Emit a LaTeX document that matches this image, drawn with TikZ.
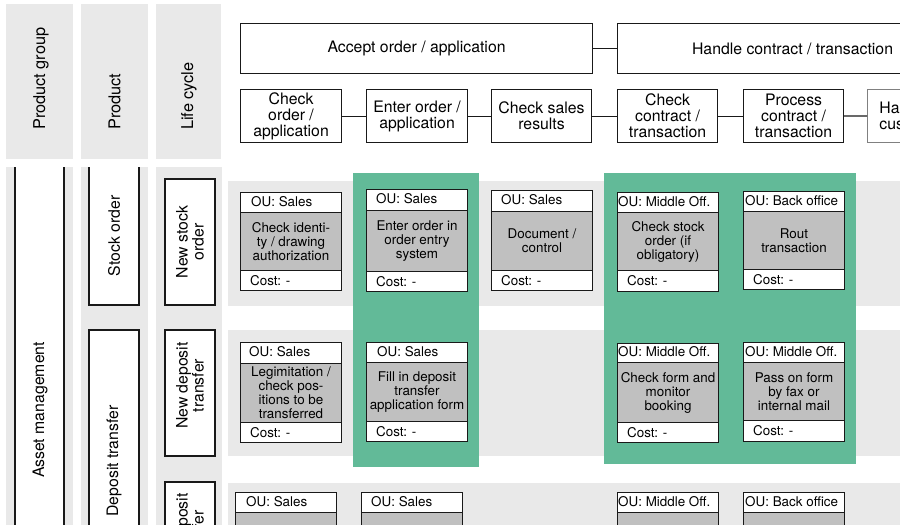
\documentclass[tikz,border=0pt]{standalone}
\usepackage{fontspec}
\setmainfont{TeX Gyre Heros}
\definecolor{bgg}{RGB}{233,233,233}
\definecolor{cardg}{RGB}{192,192,192}
\definecolor{grn}{RGB}{98,186,152}
\definecolor{ln}{RGB}{25,25,25}
\newcommand\ocard[9]{%
  \node[cpart, fill=white, minimum height={(#4-#3)*1pt}, anchor=north west] (#1h) at (#2,#3) {};
  \node[cpart, fill=cardg, minimum height={(#5-#4)*1pt}, anchor=north west] (#1b) at (#2,#4) {};
  \node[cpart, fill=white, minimum height={(#6-#5)*1pt}, anchor=north west] (#1f) at (#2,#5) {};
  \node[ctext, anchor=west] (#1ht) at ([xshift=#7pt,yshift=1pt]#1h.west) {#8};
  \node[ctext, align=center] (#1bt) at (#1b.center) {#9};
  \node[ctext, anchor=west] (#1ft) at ([xshift=10pt]#1f.west) {Cost: -};
}
\begin{document}
\begin{tikzpicture}[x=1pt,y=-1pt,
  bigfont/.style={font=\fontsize{15.8}{16}\selectfont},
  pbox/.style={draw=ln, line width=1.1pt, fill=white, inner sep=0pt, align=center, bigfont, anchor=north west},
  conn/.style={draw=ln, line width=1.1pt},
  lcbox/.style={draw=ln, line width=1.1pt, fill=white, inner sep=0pt, align=center, rotate=90, bigfont},
  vlabel/.style={rotate=90, bigfont, inner sep=0pt, align=center},
  hlabel/.style={rotate=90, font=\fontsize{16.3}{17}\selectfont, inner sep=0pt, anchor=west},
  cpart/.style={draw=ln, line width=1pt, minimum width=101pt, inner sep=0pt},
  ctext/.style={font=\fontsize{13.4}{14}\selectfont, inner sep=0pt}]
\useasboundingbox (0,0) rectangle (900,525);
\clip (0,0) rectangle (900,525);
\fill[white] (0,0) rectangle (900,525);

% header columns
\fill[bgg] (6,4) rectangle (73,159);
\fill[bgg] (81,4) rectangle (148,159);
\fill[bgg] (156,4) rectangle (221,159);
\node[hlabel] (hpg) at (41,130) {Product group};
\node[hlabel] (hpr) at (114.5,130) {Product};
\node[hlabel] (hlc) at (189,130) {Life cycle};

% lower left columns
\fill[bgg] (6,167) rectangle (73,540);
\fill[white] (15,167) rectangle (64,540);
\draw[conn] (15,167) -- (15,540) (64,167) -- (64,540);
\node[vlabel] (am) at (40,410) {Asset management};

\fill[bgg] (81,167) rectangle (148,540);
\fill[white] (89,167) rectangle (139,305);
\draw[conn] (89,167) -- (89,305) -- (139,305) -- (139,167);
\node[vlabel] (so) at (114,236) {Stock order};
\node[lcbox, minimum width=262pt, minimum height=50pt] (dtbox) at (114,461) {};
\node[vlabel] (dt) at (114,461) {Deposit transfer};

\fill[bgg] (156,167) rectangle (222,540);
\node[lcbox, minimum width=126pt, minimum height=50pt] (nso) at (190,242) {New stock\\order};
\node[lcbox, minimum width=126pt, minimum height=50pt] (ndt) at (190,393) {};
\node[vlabel, anchor=east] (ndtt) at (190,342) {New deposit\\transfer};
\node[lcbox, minimum width=126pt, minimum height=50pt] (ndt3) at (190,545) {};
\node[vlabel, anchor=east] (ndt3t) at (190,493) {New deposit\\transfer};

% process header
\node[pbox, minimum width=352pt, minimum height=50pt] (accept) at (240,23) {Accept order / application};
\node[pbox, minimum width=350pt, minimum height=50pt] (handle) at (617,23) {Handle contract / transaction};
\draw[conn] (accept) -- (handle);
\node[pbox, minimum width=101pt, minimum height=53pt] (p1) at (240,89) {Check\\order /\\application};
\node[pbox, minimum width=101pt, minimum height=53pt] (p2) at (366,89) {Enter order /\\application};
\node[pbox, minimum width=100pt, minimum height=53pt] (p3) at (491,89) {Check sales\\results};
\node[pbox, minimum width=100pt, minimum height=53pt] (p4) at (617,89) {Check\\contract /\\transaction};
\node[pbox, minimum width=100pt, minimum height=53pt] (p5) at (743,89) {Process\\contract /\\transaction};
\node[pbox, draw=gray, line width=0.8pt, minimum height=53pt, text width=76pt, inner xsep=12pt, align=left] (p6) at (867,89) {Handle\\customer};
\draw[conn] (p1) -- (p2);
\draw[conn] (p2) -- (p3);
\draw[conn] (p3) -- (p4);
\draw[conn] (p4) -- (p5);
\draw[conn] (p5) -- (p6);

% row bands
\fill[bgg] (228,180.5) rectangle (910,306);
\fill[bgg] (228,330) rectangle (910,456);
\fill[bgg] (228,483) rectangle (910,600);

% green highlight columns
\fill[grn] (353,173) rectangle (479,467);
\fill[grn] (604,173) rectangle (856,464);

% row 1 cards
\ocard{c11}{240}{192}{212}{270}{290}{11}{OU: Sales}{Check identi-\\ty / drawing\\authorization}
\ocard{c12}{366}{189}{210}{271}{291}{10}{OU: Sales}{Enter order in\\order entry\\system}
\ocard{c13}{491}{190}{211}{270}{290}{10}{OU: Sales}{Document /\\control}
\ocard{c14}{617}{192}{212}{270}{291}{1}{OU: Middle Off.}{Check stock\\order (if\\obligatory)}
\ocard{c15}{743}{191}{211}{269}{289}{2}{OU: Back office}{Rout\\transaction}
% row 2 cards
\ocard{c21}{240}{342}{363}{422}{442}{9}{OU: Sales}{Legimitation /\\check pos-\\itions to be\\transferred}
\ocard{c22}{366}{342}{362}{421}{441}{11}{OU: Sales}{Fill in deposit\\transfer\\application form}
\ocard{c24}{617}{343}{362}{422}{442}{1}{OU: Middle Off.}{Check form and\\monitor\\booking}
\ocard{c25}{743}{342}{362}{420}{441}{2}{OU: Middle Off.}{Pass on form\\by fax or\\internal mail}
% row 3 cards
\ocard{c31}{235}{492}{512}{600}{620}{11}{OU: Sales}{}
\ocard{c32}{361}{492}{512}{600}{620}{10}{OU: Sales}{}
\ocard{c34}{617}{492}{512}{600}{620}{1}{OU: Middle Off.}{}
\ocard{c35}{743}{492}{512}{600}{620}{2}{OU: Back office}{}
\end{tikzpicture}
\end{document}
